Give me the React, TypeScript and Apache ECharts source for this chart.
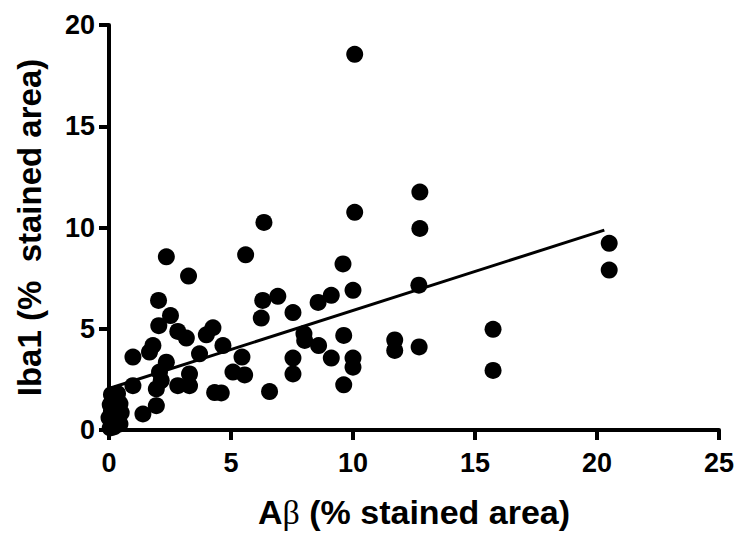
import React, { useEffect, useRef } from "react";
import * as echarts from "echarts";

const abeta: number[] = [
  10.07, 12.74, 6.35, 10.07, 12.74, 2.35, 5.6, 9.59, 20.5, 20.5,
  3.26, 2.03, 6.3, 6.92, 6.24, 7.54, 8.57, 9.11, 10.0, 12.7,
  2.52, 2.04, 2.82, 3.17, 4.26, 3.99, 4.67, 1.8, 1.66, 0.98,
  2.35, 3.71, 5.45, 5.08, 5.56, 2.07, 2.14, 1.94, 3.3, 2.82,
  3.3, 4.33, 4.6, 1.94, 1.39, 0.98, 6.58, 7.99, 8.02, 8.59,
  9.62, 9.11, 7.54, 7.54, 10.0, 10.0, 9.62, 11.71, 11.71, 12.71,
  15.74, 15.74, 0.05, 0.15, 0.0, 0.3, 0.1, 0.35, 0.05, 0.25,
  0.1, 0.35, 0.45, 0.5, 0.45, 0.2,
];
const iba1: number[] = [
  18.55, 11.75, 10.25, 10.75, 9.95, 8.55, 8.65, 8.2, 9.22, 7.9,
  7.6, 6.4, 6.4, 6.6, 5.53, 5.8, 6.3, 6.65, 6.9, 7.15,
  5.65, 5.15, 4.87, 4.54, 5.05, 4.7, 4.17, 4.17, 3.85, 3.6,
  3.35, 3.76, 3.6, 2.86, 2.72, 2.86, 2.44, 2.03, 2.77, 2.19,
  2.19, 1.85, 1.83, 1.2, 0.79, 2.19, 1.9, 4.75, 4.42, 4.17,
  4.67, 3.55, 3.55, 2.77, 3.55, 3.1, 2.23, 4.45, 3.93, 4.1,
  4.97, 2.94, 0.1, 0.35, 0.6, 0.6, 0.9, 1.05, 1.25, 1.4,
  1.75, 1.8, 0.3, 0.85, 1.3, 0.15,
];
const fitX: number[] = [0, 20.3];
const fitY: number[] = [2.05, 9.87];
const xTicks = { min: 0, max: 25, interval: 5 };
const yTicks = { min: 0, max: 20, interval: 5 };

export default function App() {
  const ref = useRef<HTMLDivElement>(null);
  useEffect(() => {
    document.body.style.margin = "0";
    if (!ref.current) return;
    const chart = echarts.init(ref.current, null, { renderer: "svg" });
    const font = "'Liberation Sans', Arial, sans-serif";
    const axisCommon = {
      axisLine: { show: true, onZero: false, lineStyle: { color: "#000", width: 4 } },
      axisTick: { show: true, length: 10, lineStyle: { color: "#000", width: 4 } },
      splitLine: { show: false },
      axisLabel: { color: "#000", fontSize: 27, fontWeight: "bold", fontFamily: font },
    };
    chart.setOption({
      animation: false,
      backgroundColor: "#fff",
      grid: { left: 109, right: 20, top: 25, bottom: 103, containLabel: false },
      xAxis: {
        type: "value",
        ...xTicks,
        ...axisCommon,
        axisLabel: { ...axisCommon.axisLabel, margin: 19 },
        name: "A{b|β} (% stained area)",
        nameLocation: "middle",
        nameGap: 65,
        nameTextStyle: {
          color: "#000",
          fontSize: 34,
          fontWeight: "bold",
          fontFamily: font,
          rich: {
            b: { fontSize: 34, fontFamily: "'Liberation Serif', 'DejaVu Serif', serif", fontWeight: "normal", color: "#000" },
          },
        },
      },
      yAxis: {
        type: "value",
        ...yTicks,
        ...axisCommon,
        axisLabel: { ...axisCommon.axisLabel, margin: 14 },
        name: "Iba1 (%  stained area)",
        nameLocation: "middle",
        nameGap: 63,
        nameTextStyle: { color: "#000", fontSize: 33, fontWeight: "bold", fontFamily: font },
      },
      series: [
        {
          type: "scatter",
          data: abeta.map((x, i) => [x, iba1[i]]),
          symbol: "circle",
          symbolSize: 17,
          itemStyle: { color: "#000", opacity: 1 },
          z: 3,
        },
        {
          type: "line",
          data: fitX.map((x, i) => [x, fitY[i]]),
          showSymbol: false,
          symbol: "none",
          lineStyle: { color: "#000", width: 3 },
          z: 2,
        },
      ],
    });
    return () => chart.dispose();
  }, []);
  return <div ref={ref} style={{ width: 739, height: 534 }} />;
}
